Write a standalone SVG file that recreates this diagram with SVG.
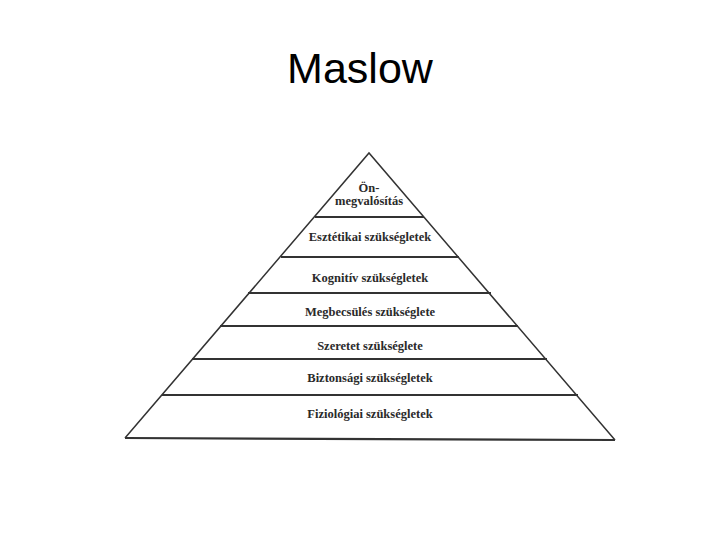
<svg xmlns="http://www.w3.org/2000/svg" width="720" height="540" viewBox="0 0 720 540">
<style>
.title{font-family:"Liberation Sans",Arial,sans-serif;font-size:43px;fill:#000}
.lbl{font-family:"Liberation Serif","Times New Roman",serif;font-size:12.5px;fill:#2a2a2a;text-anchor:middle;font-weight:bold}
.edge{stroke:#333;stroke-width:1.5;fill:none}
.tier{stroke:#333;stroke-width:2.2;fill:none}
</style>
<rect width="720" height="540" fill="#fff"/>
<text class="title" x="360" y="83" text-anchor="middle">Maslow</text>
<g id="connectors">
<path class="edge" d="M125,438 L369,153 L615,440"/>
<line class="tier" x1="315" y1="217" x2="424" y2="217"/>
<line class="tier" x1="281" y1="257" x2="459" y2="257"/>
<line class="tier" x1="248" y1="293" x2="491" y2="293"/>
<line class="tier" x1="220" y1="326" x2="518" y2="326"/>
<line class="tier" x1="192" y1="359" x2="547" y2="359"/>
<line class="tier" x1="162" y1="395" x2="578" y2="395"/>
<line class="tier" x1="125" y1="438" x2="615" y2="440"/>
</g>
<g id="n1"><text class="lbl" x="369" y="192">Ön-</text><text class="lbl" x="369" y="205">megvalósítás</text></g>
<g id="n2"><text class="lbl" x="370" y="241">Esztétikai szükségletek</text></g>
<g id="n3"><text class="lbl" x="370" y="282">Kognitív szükségletek</text></g>
<g id="n4"><text class="lbl" x="370" y="316">Megbecsülés szükséglete</text></g>
<g id="n5"><text class="lbl" x="370" y="350">Szeretet szükséglete</text></g>
<g id="n6"><text class="lbl" x="370" y="382">Biztonsági szükségletek</text></g>
<g id="n7"><text class="lbl" x="370" y="418">Fiziológiai szükségletek</text></g>
</svg>
